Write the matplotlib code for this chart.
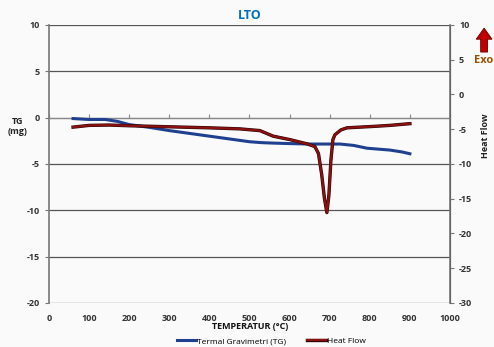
import matplotlib
matplotlib.use("Agg")
import matplotlib.pyplot as plt
from matplotlib.patches import FancyArrow
import matplotlib.patheffects as pe

plt.rcParams['font.family'] = ['Open Sans', 'DejaVu Sans']

# TG data (left axis, mg)
tg_temp = [60, 100, 140, 170, 200, 250, 300, 350, 400, 450, 500, 530, 560, 600, 650, 700, 726, 760, 793, 850, 880, 900]
tg_val = [-0.1, -0.2, -0.2, -0.4, -0.75, -1.05, -1.4, -1.7, -2.0, -2.3, -2.6, -2.7, -2.75, -2.8, -2.85, -2.85, -2.85, -3.0, -3.3, -3.5, -3.7, -3.9]

# Heat flow data (right axis)
hf_temp = [60, 100, 150, 200, 300, 400, 476, 526, 559, 601, 643, 663, 672, 680, 687, 693, 698, 703, 708, 713, 728, 743, 808, 850, 900]
hf_val = [-4.7, -4.45, -4.4, -4.5, -4.65, -4.8, -4.95, -5.2, -6.0, -6.5, -7.1, -7.5, -8.5, -11.5, -15.0, -17.0, -14.5, -9.5, -6.5, -5.8, -5.1, -4.8, -4.6, -4.45, -4.2]

x_ticks = [0, 100, 200, 300, 400, 500, 600, 700, 800, 900, 1000]
left_ticks = [10, 5, 0, -5, -10, -15, -20]
right_ticks = [10, 5, 0, -5, -10, -15, -20, -25, -30]

fig = plt.figure(figsize=(4.94, 3.47), dpi=100)
fig.patch.set_facecolor('#FAFAFA')
ax = fig.add_axes([0.0992, 0.127, 0.8117, 0.801])
ax.set_facecolor('#FAFAFA')
ax2 = ax.twinx()

tick_kw = dict(fontsize=6.5, fontweight='bold', color='#333333')

ax.set_xlim(0, 1000)
ax.set_ylim(-20, 10)
ax2.set_ylim(-30, 10)
ax.set_yticks(left_ticks)
ax.set_yticklabels([str(t) for t in left_ticks], **tick_kw)
ax2.set_yticks(right_ticks)
ax2.set_yticklabels([str(t) for t in right_ticks], **tick_kw)

for t in left_ticks:
    ax.axhline(t, color='#555555', lw=0.9, zorder=0)

# x axis crossing at zero
ax.spines['bottom'].set_position(('data', 0))
ax.spines['bottom'].set_color('#888888')
ax.spines['top'].set_visible(False)
ax.spines['left'].set_color('#777777')
ax.spines['left'].set_linewidth(1.2)
ax2.spines['right'].set_color('#777777')
ax2.spines['right'].set_linewidth(1.2)
ax2.spines['top'].set_visible(False)
ax2.spines['left'].set_visible(False)
ax2.spines['bottom'].set_visible(False)
ax.set_xticks(x_ticks)
ax.tick_params(axis='x', labelbottom=False, direction='in', length=3, color='#888888')
ax.tick_params(axis='y', length=3, color='#777777')
ax2.tick_params(axis='y', length=3, color='#777777')

sec = ax.secondary_xaxis(0)
sec.set_xticks(x_ticks)
sec.set_xticklabels([str(t) for t in x_ticks], **tick_kw)
sec.tick_params(length=0, pad=8)
sec.spines['bottom'].set_visible(False)

l1, = ax.plot(tg_temp, tg_val, color='#1F3F8F', lw=2.2, label='Termal Gravimetri (TG)', zorder=3)
l2, = ax2.plot(hf_temp, hf_val, color='#8B1010', lw=1.6, label='Heat Flow', zorder=3,
               path_effects=[pe.Stroke(linewidth=2.4, foreground='#2a0505'), pe.Normal()])

fig.text(0.506, 0.955, 'LTO', ha='center', va='center', fontsize=9, fontweight='bold', color='#0070C0')
fig.text(0.036, 0.635, 'TG\n(mg)', ha='center', va='center', fontsize=6.5, fontweight='bold', color='#222222')
fig.text(0.982, 0.61, 'Heat Flow', ha='center', va='center', rotation=90, fontsize=6.5, fontweight='bold', color='#222222')
fig.text(0.506, 0.06, 'TEMPERATUR (°C)', ha='center', va='center', fontsize=6.5, fontweight='bold', color='#111111')
fig.text(0.978, 0.826, 'Exo', ha='center', va='center', fontsize=8, fontweight='bold', color='#9A5200')
arrow = FancyArrow(0.98, 0.850, 0, 0.069, width=0.014, head_width=0.032, head_length=0.032,
                   length_includes_head=True, transform=fig.transFigure, color='#C00000', ec='#600000', lw=0.6)
fig.patches.append(arrow)

fig.legend(handles=[l1, l2], loc='center', bbox_to_anchor=(0.55, 0.017), ncol=2, frameon=False,
           fontsize=6, handlelength=2.2, columnspacing=2.5, handletextpad=0.2)

fig.savefig('out.png', dpi=100, facecolor=fig.get_facecolor())
